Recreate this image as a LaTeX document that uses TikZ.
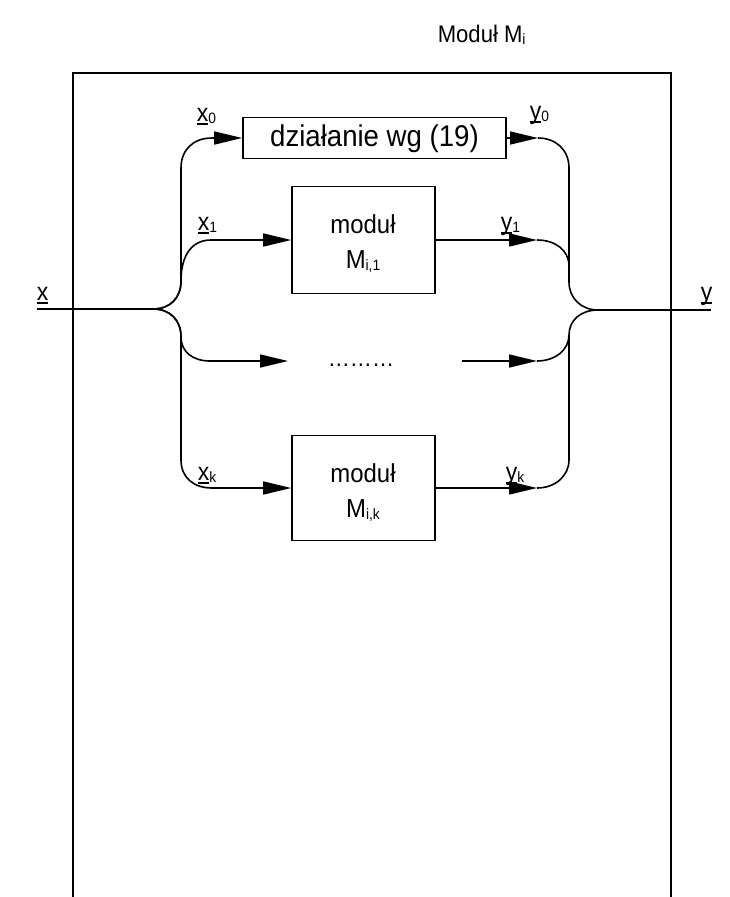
\documentclass[tikz,border=0pt]{standalone}
\usepackage{fontspec}
\setmainfont{Liberation Sans}[FakeStretch=0.92]
\usetikzlibrary{arrows.meta}
\newcommand\ulx[1]{\setbox0\hbox{#1}\rlap{\rule[-3.5pt]{\wd0}{1.5pt}}\box0}
\newcommand\sbs[1]{\raisebox{-2pt}{\fontsize{15}{15}\selectfont #1}}
\begin{document}
\begin{tikzpicture}[x=1pt,y=-1pt,line width=1.6pt,
  box/.style={draw,line width=1.6pt,inner sep=0pt},
  txt/.style={font=\fontsize{26}{26}\selectfont,inner sep=0pt,anchor=base},
  lbl/.style={font=\fontsize{25}{25}\selectfont,inner sep=0pt,anchor=base west},
  arr/.style={-{Triangle[length=28pt,width=13pt]}}]
\useasboundingbox (0,0) rectangle (729,897);
% frame
\draw (73,897) -- (73,73) -- (671,73) -- (671,897);
\node[txt,font=\fontsize{24}{24}\selectfont,anchor=base west] (title) at (437,42) {Moduł M\sbs{i}};
% boxes
\node[box,minimum width=263pt,minimum height=41pt] (b0) at (374.5,138) {};
\node[box,minimum width=143pt,minimum height=107pt] (b1) at (363.5,240) {};
\node[box,minimum width=143pt,minimum height=105pt] (bk) at (363.5,488) {};
\node[txt,font=\fontsize{30}{30}\selectfont] (t0) at (374.5,146) {działanie wg (19)};
\node[txt] (t1a) at (363,233) {moduł};
\node[txt] (t1b) at (363,268) {M\sbs{i,1}};
\node[txt] (tka) at (363,482) {moduł};
\node[txt] (tkb) at (363,517) {M\sbs{i,k}};
\node[txt,font=\fontsize{24}{24}\selectfont] (dots) at (361,366) {………};
% coordinates
\coordinate (xin) at (37,309);
\coordinate (jl) at (153,309);
\coordinate (jr) at (598,310);
\coordinate (yout) at (711,310);
\coordinate (m1) at (288,361);
\coordinate (m2) at (462,361);
\coordinate (y0e) at (538,138);
\coordinate (y1e) at (537,240);
\coordinate (yme) at (537,361);
\coordinate (yke) at (537,488);
% input / output
\draw (xin) -- (jl);
\draw (jr) -- (yout);
% left branches
\draw[arr] (jl) .. controls (170,309) and (181,298) .. (181,281) -- (181,168) .. controls (181,150) and (193,138) .. (212,138) -- (b0.west);
\draw[arr] (jl) .. controls (170,309) and (181,298) .. (181,281) .. controls (181,255) and (192,240) .. (211,240) -- (b1.west);
\draw[arr] (jl) .. controls (170,309) and (181,320) .. (181,337) .. controls (181,352) and (193,361) .. (210,361) -- (m1);
\draw[arr] (jl) .. controls (170,309) and (181,320) .. (181,337) -- (181,460) .. controls (181,477) and (193,488) .. (212,488) -- (bk.west);
% right branches
\draw[arr] (b0.east) -- (y0e);
\draw (y0e) .. controls (556,138) and (569,150) .. (569,168) -- (569,282) .. controls (569,298) and (581,310) .. (jr);
\draw[arr] (b1.east) -- (y1e);
\draw (y1e) .. controls (555,240) and (569,250) .. (569,266);
\draw[arr] (m2) -- (yme);
\draw (yme) .. controls (555,361) and (569,350) .. (569,335) .. controls (569,320) and (581,310) .. (jr);
\draw[arr] (bk.east) -- (yke);
\draw (yke) .. controls (555,488) and (569,476) .. (569,460) -- (569,335);
% labels
\node[lbl] (lx) at (36,300) {\ulx{x}};
\node[lbl] (ly) at (700,300) {\ulx{y}};
\node[lbl] (lx0) at (196,121) {\ulx{x}\sbs{0}};
\node[lbl] (lx1) at (197,230) {\ulx{x}\sbs{1}};
\node[lbl] (lxk) at (197,480) {\ulx{x}\sbs{k}};
\node[lbl] (ly0) at (529,119) {\ulx{y}\sbs{0}};
\node[lbl] (ly1) at (500,230) {\ulx{y}\sbs{1}};
\node[lbl] (lyk) at (505,480) {\ulx{y}\sbs{k}};
\end{tikzpicture}
\end{document}
